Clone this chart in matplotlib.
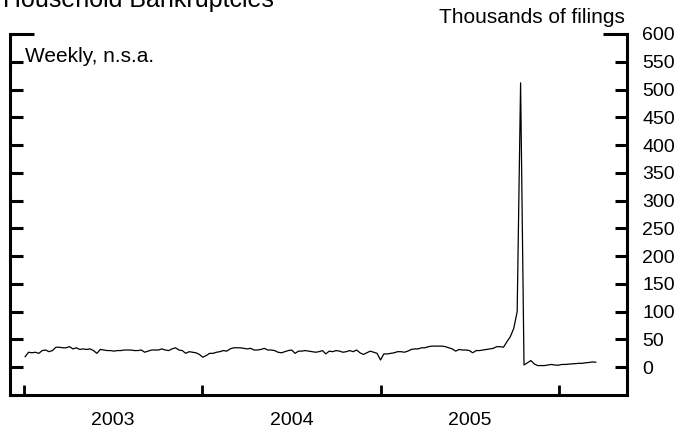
import matplotlib
matplotlib.use("Agg")
import matplotlib.pyplot as plt
import numpy as np
import pandas as pd

plt.rcParams['font.family'] = ['Liberation Sans', 'DejaVu Sans']

# weekly household bankruptcy filings, thousands (n.s.a.)
filings = [
    19, 27, 26, 27, 25, 30, 31, 28, 30, 36, 36, 35, 35, 37, 33, 35, 32, 33, 32, 33,
    30, 25, 32, 31, 30, 30, 29, 30,
    30, 31, 31, 31, 30, 30, 31, 27, 29, 31, 31, 31, 33, 31, 30, 33, 35, 31, 30, 25,
    28, 27, 26, 23, 18, 21, 25, 25,
    27, 28, 30, 29, 33, 35, 35, 35, 34, 33, 34, 31, 31, 32, 34, 31, 31, 30, 27, 26,
    28, 30, 31, 25, 29, 29, 30, 29,
    28, 27, 28, 30, 24, 29, 28, 30, 29, 27, 28, 30, 28, 31, 26, 23, 26, 29, 27, 25,
    13, 24, 24, 25, 26, 28, 28,
    27, 29, 32, 33, 33, 35, 35, 37, 38, 38, 38, 38, 37, 35, 33, 29, 32, 31, 31, 30,
    26, 30, 30, 31, 32, 33, 34, 37, 37, 36,
    46, 55, 70, 100, 512, 4, 8, 12, 6, 3, 3, 3, 4, 5, 4, 3.5, 5, 5, 5.5, 6,
    6.5, 7, 7, 8, 8.5, 9.5, 9,
]
weeks = pd.date_range("2003-01-03", periods=len(filings), freq="W-FRI")

year_starts = pd.to_datetime(["2003-01-01", "2004-01-01", "2005-01-01", "2006-01-01"])
year_mids = pd.to_datetime(["2003-07-02", "2004-07-02", "2005-07-02"])
year_labels = ["2003", "2004", "2005"]
y_ticks = np.arange(0, 601, 50)

fig = plt.figure(figsize=(6.75, 4.3), dpi=100)
ax = fig.add_axes([10 / 675, 35 / 430, 617 / 675, 361 / 430])

ax.plot(weeks, filings, color="black", lw=0.9)

ax.set_xlim(pd.Timestamp("2002-12-03"), pd.Timestamp("2006-05-20"))
ax.set_ylim(-50, 600)

ax.spines["top"].set_visible(False)
for s in ["left", "right", "bottom"]:
    ax.spines[s].set_linewidth(2.2)

ax.set_xticks(year_starts)
ax.set_xticklabels([])
ax.set_xticks(year_mids, minor=True)
ax.set_xticklabels(year_labels, minor=True)
ax.tick_params(axis="x", which="major", direction="in", length=7.5, width=2)
ax.tick_params(axis="x", which="minor", length=0, pad=12, labelsize=14)

ax.set_yticks(y_ticks)
ax.tick_params(axis="y", direction="in", length=9, width=2.2,
               left=True, right=True, labelleft=False, labelright=True,
               labelsize=14, pad=11)

# the 600 tick is drawn longer, like a cap on both spines
top_tick = ax.yaxis.get_major_ticks()[-1]
top_tick.tick1line.set_markersize(17)
top_tick.tick2line.set_markersize(17)

fig.text(3 / 675, 1 - 7 / 430, "Household Bankruptcies", fontsize=18, va="baseline")
fig.text(25 / 675, 1 - 62 / 430, "Weekly, n.s.a.", fontsize=15, va="baseline")
fig.text(625 / 675, 1 - 23 / 430, "Thousands of filings", fontsize=15,
         ha="right", va="baseline")

fig.savefig("out.png", dpi=100)
